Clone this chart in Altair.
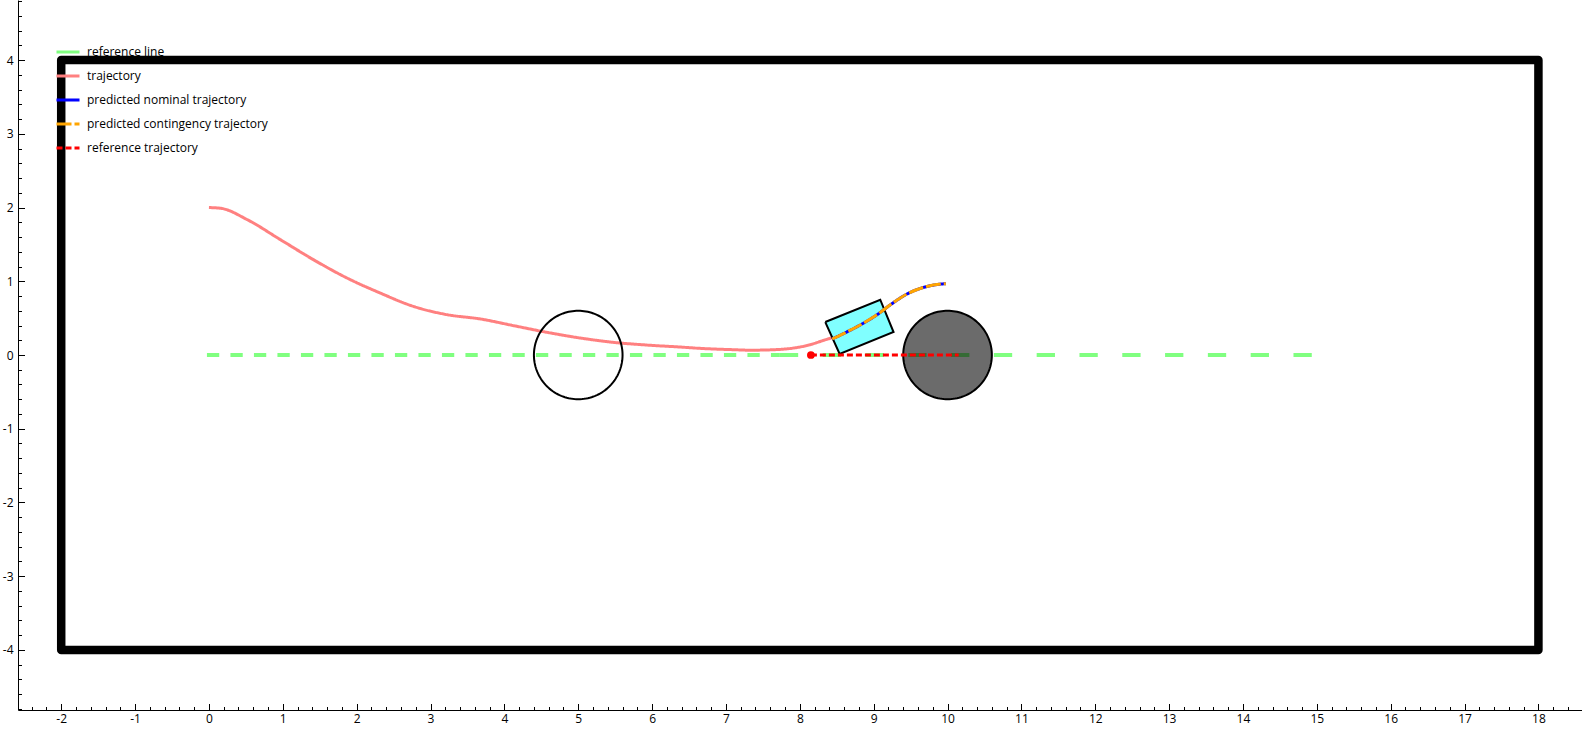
import numpy as np
import pandas as pd
import altair as alt

# ---------------- data ----------------
X_DOMAIN = [-2.585, 18.59]
Y_DOMAIN = [-4.815, 4.815]
X_TICKS = list(range(-2, 19))
Y_TICKS = list(range(-4, 5))
X_MINOR = [round(-2.4 + 0.2 * i, 1) for i in range(105)]
Y_MINOR = [round(-4.8 + 0.2 * i, 1) for i in range(49)]

BORDER_X = [-2, 18, 18, -2, -2]
BORDER_Y = [-4, -4, 4, 4, -4]

REF_A_X = [-0.027, 7.73]
REF_A_Y = [0.0, 0.0]
REF_B_X = [7.73, 15.0]
REF_B_Y = [0.0, 0.0]

TRAJ_X = [0.0, 0.16, 0.52, 0.97, 1.42, 1.87, 2.32, 2.77, 3.23, 3.68, 4.13, 4.58,
          5.03, 5.48, 5.93, 6.38, 6.65, 7.10, 7.33, 7.65, 7.92, 8.14, 8.32, 8.44]
TRAJ_Y = [2.0, 1.99, 1.835, 1.563, 1.29, 1.044, 0.84, 0.659, 0.546, 0.488, 0.397, 0.307,
          0.23, 0.171, 0.135, 0.108, 0.09, 0.072, 0.065, 0.072, 0.095, 0.14, 0.198, 0.235]

OBST_X = [5.0, 10.0]
OBST_Y = [0.0, 0.0]
OBST_R = [0.6, 0.6]

CAR_X = [8.345, 9.089, 9.269, 8.539, 8.345]
CAR_Y = [0.447, 0.750, 0.312, 0.014, 0.447]

PRED_X = [8.437, 8.625, 8.84, 9.045, 9.247, 9.45, 9.675, 9.924, 9.978]
PRED_Y = [0.217, 0.307, 0.42, 0.546, 0.696, 0.827, 0.917, 0.963, 0.967]

REFTRAJ_X = [8.15, 10.15]
REFTRAJ_Y = [0.0, 0.0]

NAMES = ["reference line", "trajectory", "predicted nominal trajectory",
         "predicted contingency trajectory", "reference trajectory"]
COLORS = ["#80ff80", "#ff8080", "#0000ff", "#ffa500", "#ff0000"]
DASHES = [[1, 0], [1, 0], [1, 0], [15, 3], [6, 3]]

FONT = "Open Sans"
W, H = 1564, 710

# ---------------- helpers ----------------
def path_df(xs, ys, name=""):
    return pd.DataFrame({"x": xs, "y": ys, "i": list(range(len(xs))), "s": [name] * len(xs)})

def circle_df(cx, cy, r):
    t = np.linspace(0, 2 * np.pi, 145)
    return path_df(list(cx + r * np.cos(t)), list(cy + r * np.sin(t)))

xs = alt.Scale(domain=X_DOMAIN, nice=False, zero=False)
ys = alt.Scale(domain=Y_DOMAIN, nice=False, zero=False)

def X(axis=None):
    return alt.X("x:Q", scale=xs, axis=axis, title=None)

def Y(axis=None):
    return alt.Y("y:Q", scale=ys, axis=axis, title=None)

color_scale = alt.Scale(domain=NAMES, range=COLORS)
dash_scale = alt.Scale(domain=NAMES, range=DASHES)

COLOR = alt.Color("s:N", scale=color_scale, legend=alt.Legend(title=None))
DASH = alt.StrokeDash("s:N", scale=dash_scale, legend=alt.Legend(title=None))

label_x_axis = alt.Axis(orient="bottom", values=X_TICKS, ticks=False, grid=False, domain=True,
                        domainColor="black", domainWidth=1, labelExpr="'' + datum.value",
                        labelFont=FONT, labelFontSize=12, labelColor="black", labelPadding=3,
                        labelFlush=False, labelOverlap=False, title=None)
label_y_axis = alt.Axis(orient="left", values=Y_TICKS, ticks=False, grid=False, domain=True,
                        domainColor="black", domainWidth=1, labelExpr="'' + datum.value",
                        labelFont=FONT, labelFontSize=12, labelColor="black", labelPadding=5,
                        labelFlush=False, labelOverlap=False, title=None)

def tick_axis_x(values, size):
    return alt.Axis(orient="top", offset=-H, values=values, ticks=True, tickSize=size,
                    tickColor="black", tickWidth=1, labels=False, domain=False, grid=False, title=None)

def tick_axis_y(values, size):
    return alt.Axis(orient="right", offset=-W, values=values, ticks=True, tickSize=size,
                    tickColor="black", tickWidth=1, labels=False, domain=False, grid=False, title=None)

# ---------------- layers ----------------
border = alt.Chart(path_df(BORDER_X, BORDER_Y)).mark_line(
    color="black", strokeWidth=8.5, strokeJoin="round", strokeCap="round"
).encode(x=X(label_x_axis), y=Y(label_y_axis), order="i:Q")

ref_a = alt.Chart(path_df(REF_A_X, REF_A_Y, NAMES[0])).mark_line(
    strokeWidth=4, strokeDash=[12.3, 11.2]
).encode(x=X(tick_axis_x(X_MINOR, 3.5)), y=Y(tick_axis_y(Y_MINOR, 3.5)), order="i:Q",
         color=COLOR)

ref_b = alt.Chart(path_df(REF_B_X, REF_B_Y, NAMES[0])).mark_line(
    strokeWidth=4, strokeDash=[18.3, 24.5]
).encode(x=X(), y=Y(), order="i:Q", color=COLOR)

traj = alt.Chart(path_df(TRAJ_X, TRAJ_Y, NAMES[1])).mark_line(
    strokeWidth=3, interpolate="monotone"
).encode(x=X(tick_axis_x(X_TICKS, 6.5)), y=Y(tick_axis_y(Y_TICKS, 6.5)), order="i:Q",
         color=COLOR, strokeDash=DASH)

obs_hollow = alt.Chart(circle_df(OBST_X[0], OBST_Y[0], OBST_R[0])).mark_line(
    stroke="black", strokeWidth=2
).encode(x=X(), y=Y(), order="i:Q")

obs_filled = alt.Chart(circle_df(OBST_X[1], OBST_Y[1], OBST_R[1])).mark_line(
    stroke="black", strokeWidth=2, fill="black", fillOpacity=0.58
).encode(x=X(), y=Y(), order="i:Q")

car = alt.Chart(path_df(CAR_X, CAR_Y)).mark_line(
    stroke="black", strokeWidth=2, fill="#80ffff", fillOpacity=1, strokeJoin="miter"
).encode(x=X(), y=Y(), order="i:Q")

reftraj = alt.Chart(path_df(REFTRAJ_X, REFTRAJ_Y, NAMES[4])).mark_line(
    strokeWidth=3
).encode(x=X(), y=Y(), order="i:Q", color=COLOR, strokeDash=DASH)

refdot = alt.Chart(path_df(REFTRAJ_X[:1], REFTRAJ_Y[:1])).mark_circle(
    color="#ff0000", size=60, opacity=1
).encode(x=X(), y=Y())

nominal = alt.Chart(path_df(PRED_X, PRED_Y, NAMES[2])).mark_line(
    strokeWidth=3, interpolate="monotone"
).encode(x=X(), y=Y(), order="i:Q", color=COLOR, strokeDash=DASH)

contingency = alt.Chart(path_df(PRED_X, PRED_Y, NAMES[3])).mark_line(
    strokeWidth=3, interpolate="monotone"
).encode(x=X(), y=Y(), order="i:Q", color=COLOR, strokeDash=DASH)

chart = alt.layer(
    border, ref_a, ref_b, traj, obs_hollow, obs_filled, car, reftraj, refdot, nominal, contingency
).resolve_axis(x="independent", y="independent").properties(
    width=W, height=H,
    padding={"left": 18, "top": 0, "right": 0, "bottom": 20},
    autosize=alt.AutoSizeParams(type="none"),
    background="white",
).configure_view(stroke=None).configure_legend(
    orient="none", legendX=37, legendY=39, padding=0, symbolType="stroke", symbolSize=529,
    symbolStrokeWidth=3, labelFont=FONT, labelFontSize=12, labelColor="black", labelOffset=6,
    rowPadding=5, titlePadding=0, labelLimit=0,
)

chart.save("out.html", embed_options={"renderer": "svg", "actions": False})
